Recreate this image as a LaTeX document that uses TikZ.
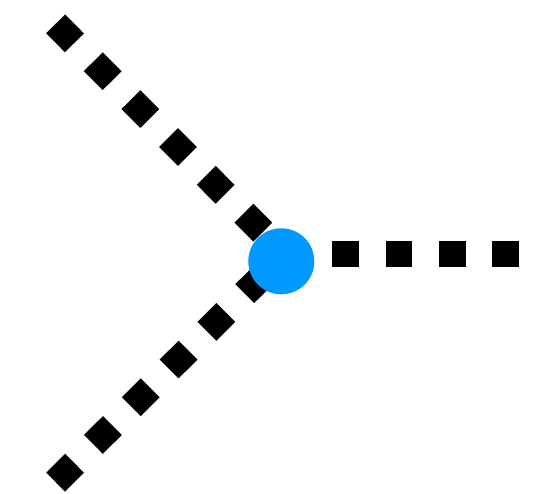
\documentclass[tikz,border=0pt]{standalone}
\definecolor{hubblue}{RGB}{0,153,255}
\begin{document}
\begin{tikzpicture}[x=1pt,y=-1pt,
  spoke/.style={line width=26.7pt, dash pattern=on 26.7pt off 26.7pt, line cap=butt, black},
  hubdot/.style={circle, fill=hubblue, draw=none, minimum size=66pt, inner sep=0pt}]
\useasboundingbox (0,0) rectangle (539,494);
\coordinate (hub) at (284.5,254);
\coordinate (ul) at (55.6,23.9);
\coordinate (ll) at (55.6,482.1);
\coordinate (r) at (519,254);
\draw[spoke] (ul) -- (hub);
\draw[spoke] (ll) -- (hub);
\draw[spoke] (r) -- (hub);
\node[hubdot] (c) at (281.3,261.3) {};
\end{tikzpicture}
\end{document}
